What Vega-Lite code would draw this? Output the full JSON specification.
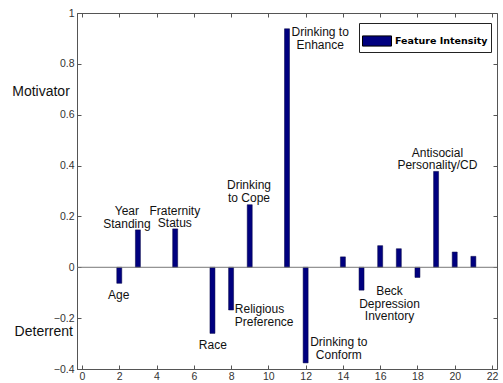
{
  "$schema": "https://vega.github.io/schema/vega-lite/v6.json",
  "width": 420,
  "height": 356,
  "autosize": {"type": "none"},
  "padding": {"left": 77, "top": 13, "right": 6, "bottom": 14},
  "background": "white",
  "config": {
    "view": {"stroke": "#555", "strokeWidth": 1},
    "font": "Liberation Sans",
    "axis": {
      "grid": false, "domainColor": "#555", "tickColor": "#555", "tickSize": -4,
      "labelColor": "#333", "labelFontSize": 10.5, "labelFont": "Liberation Sans", "title": null
    }
  },
  "datasets": {
    "bars": [
      {"feature": 2, "intensity": -0.063, "series": "Feature Intensity"},
      {"feature": 3, "intensity": 0.147, "series": "Feature Intensity"},
      {"feature": 5, "intensity": 0.151, "series": "Feature Intensity"},
      {"feature": 7, "intensity": -0.26, "series": "Feature Intensity"},
      {"feature": 8, "intensity": -0.168, "series": "Feature Intensity"},
      {"feature": 9, "intensity": 0.246, "series": "Feature Intensity"},
      {"feature": 11, "intensity": 0.938, "series": "Feature Intensity"},
      {"feature": 12, "intensity": -0.376, "series": "Feature Intensity"},
      {"feature": 14, "intensity": 0.041, "series": "Feature Intensity"},
      {"feature": 15, "intensity": -0.09, "series": "Feature Intensity"},
      {"feature": 16, "intensity": 0.085, "series": "Feature Intensity"},
      {"feature": 17, "intensity": 0.073, "series": "Feature Intensity"},
      {"feature": 18, "intensity": -0.04, "series": "Feature Intensity"},
      {"feature": 19, "intensity": 0.377, "series": "Feature Intensity"},
      {"feature": 20, "intensity": 0.06, "series": "Feature Intensity"},
      {"feature": 21, "intensity": 0.043, "series": "Feature Intensity"}
    ],
    "centerLabels": [
      {"tx": 1.97, "ty": -0.088, "label": ["Age"]},
      {"tx": 2.41, "ty": 0.24, "label": ["Year", "Standing"]},
      {"tx": 4.98, "ty": 0.242, "label": ["Fraternity", "Status"]},
      {"tx": 7.02, "ty": -0.285, "label": ["Race"]},
      {"tx": 8.96, "ty": 0.342, "label": ["Drinking", "to Cope"]},
      {"tx": 12.78, "ty": 0.944, "label": ["Drinking to", "Enhance"]},
      {"tx": 13.78, "ty": -0.275, "label": ["Drinking to", "Conform"]},
      {"tx": 16.5, "ty": -0.074, "label": ["Beck", "Depression", "Inventory"]},
      {"tx": 19.07, "ty": 0.471, "label": ["Antisocial", "Personality/CD"]}
    ],
    "leftLabels": [
      {"tx": 8.2, "ty": -0.145, "label": ["Religious", "Preference"]}
    ],
    "sideLabels": [
      {"tx": -2.2, "ty": 0.69, "label": "Motivator"},
      {"tx": -2.05, "ty": -0.255, "label": "Deterrent"}
    ]
  },
  "layer": [
    {
      "data": {"name": "bars"},
      "mark": {"type": "bar", "size": 5, "stroke": "#000040", "strokeWidth": 0.5},
      "encoding": {
        "x": {"field": "feature", "type": "quantitative", "scale": {"domain": [0, 22], "nice": false},
              "axis": {"orient": "bottom", "values": [0,2,4,6,8,10,12,14,16,18,20,22], "labelPadding": 6, "labelFlush": false}},
        "y": {"field": "intensity", "type": "quantitative", "scale": {"domain": [-0.4, 1], "nice": false},
              "axis": {"orient": "left", "values": [-0.4,-0.2,0,0.2,0.4,0.6,0.8,1], "labelPadding": 7, "format": "~g"}},
        "y2": {"datum": 0},
        "color": {"field": "series", "type": "nominal",
                  "scale": {"range": ["#00007F"]},
                  "legend": {
                    "title": null, "orient": "none", "legendX": 282, "legendY": 10,
                    "strokeColor": "#222", "fillColor": "white", "padding": 3,
                    "symbolType": "M-1,-0.35H1V0.35H-1Z", "symbolSize": 841,
                    "symbolStrokeColor": "#000", "symbolStrokeWidth": 1, "symbolOpacity": 1,
                    "labelFont": "DejaVu Sans", "labelFontWeight": "bold", "labelFontSize": 9.5,
                    "labelColor": "#000", "labelOffset": 3
                  }}
      }
    },
    {
      "data": {"name": "bars"},
      "mark": {"type": "point", "opacity": 0},
      "encoding": {
        "x": {"field": "feature", "type": "quantitative",
              "axis": {"orient": "top", "labels": false, "domain": false, "values": [0,2,4,6,8,10,12,14,16,18,20,22]}},
        "y": {"field": "intensity", "type": "quantitative",
              "axis": {"orient": "right", "labels": false, "domain": false, "values": [-0.4,-0.2,0,0.2,0.4,0.6,0.8,1]}}
      }
    },
    {
      "data": {"values": [{"y0": 0}]},
      "mark": {"type": "rule", "color": "#777", "strokeWidth": 1},
      "encoding": {
        "y": {"field": "y0", "type": "quantitative", "axis": null}
      }
    },
    {
      "data": {"name": "centerLabels"},
      "mark": {"type": "text", "align": "center", "baseline": "top", "fontSize": 12, "lineHeight": 12.5, "color": "#111", "font": "Liberation Sans"},
      "encoding": {
        "x": {"field": "tx", "type": "quantitative", "axis": null},
        "y": {"field": "ty", "type": "quantitative", "axis": null},
        "text": {"field": "label"}
      }
    },
    {
      "data": {"name": "leftLabels"},
      "mark": {"type": "text", "align": "left", "baseline": "top", "fontSize": 12, "lineHeight": 12.5, "color": "#111", "font": "Liberation Sans"},
      "encoding": {
        "x": {"field": "tx", "type": "quantitative", "axis": null},
        "y": {"field": "ty", "type": "quantitative", "axis": null},
        "text": {"field": "label"}
      }
    },
    {
      "data": {"name": "sideLabels"},
      "mark": {"type": "text", "align": "center", "baseline": "middle", "fontSize": 14, "color": "#111", "font": "Liberation Sans", "clip": false},
      "encoding": {
        "x": {"field": "tx", "type": "quantitative", "axis": null},
        "y": {"field": "ty", "type": "quantitative", "axis": null},
        "text": {"field": "label"}
      }
    }
  ],
  "resolve": {"axis": {"x": "independent", "y": "independent"}}
}
